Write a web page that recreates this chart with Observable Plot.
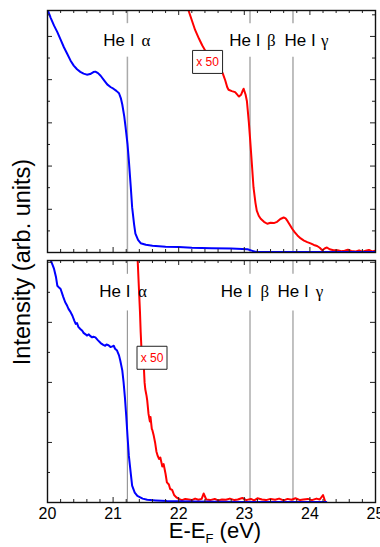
<!DOCTYPE html>
<html><head><meta charset="utf-8">
<script src="https://cdn.jsdelivr.net/npm/d3@7"></script>
<script src="https://cdn.jsdelivr.net/npm/@observablehq/plot@0.6"></script>
<style>
body{margin:0;background:#fff;}
#wrap{position:relative;width:380px;height:547px;overflow:hidden;font-family:"Liberation Sans",Arial,sans-serif;color:#000;}
#top,#bot{position:absolute;left:0;}
#top{top:0px}
#bot{top:255px}
#ylab{position:absolute;left:23px;top:262px;transform:translate(-50%,-50%) rotate(-90deg);font-size:23.5px;white-space:nowrap;line-height:1;}
#xlab{position:absolute;left:215px;top:521px;transform:translateX(-50%);font-size:22px;white-space:nowrap;line-height:0.9;}
#xlab .s{font-size:13px;position:relative;top:5px;}
</style>
</head><body>
<div id="wrap">
  <div id="top"></div>
  <div id="bot"></div>
  <div id="ylab">Intensity (arb. units)</div>
  <div id="xlab">E-E<span class="s">F</span> (eV)</div>
</div>
<script>
// ---------- data ----------
const heLineNames = ["α", "β", "γ"];
const heLineEnergies = [21.218, 23.087, 23.742];
const xTickLabels = [20, 21, 22, 23, 24, 25];

// top panel, blue (raw)
const topBlueE = [20.0,20.05,20.1,20.15,20.2,20.25,20.3,20.35,20.4,20.45,20.5,20.55,20.6,20.65,20.7,20.73,20.77,20.81,20.86,20.91,20.96,21.01,21.05,21.09,21.12,21.14,21.17,21.19,21.22,21.24,21.27,21.29,21.32,21.34,21.38,21.42,21.5,21.6,21.8,22.0,22.2,22.5,22.8,23.05,23.1,23.15,23.2,23.4,23.8,24.5,25.0];
const topBlueI = [11.25,10.85,10.5,10.2,9.85,9.5,9.2,8.89,8.65,8.48,8.36,8.28,8.23,8.26,8.35,8.37,8.3,8.18,7.98,7.78,7.66,7.57,7.48,7.37,7.12,6.85,6.3,5.8,5.0,4.26,3.0,2.1,1.3,0.87,0.58,0.43,0.36,0.31,0.27,0.25,0.22,0.2,0.18,0.15,0.1,0.05,0.04,0.02,0.02,0.02,0.02];

// top panel, red (x 50)
const topRedE = [22.1,22.15,22.2,22.25,22.31,22.36,22.45,22.55,22.63,22.67,22.71,22.74,22.76,22.81,22.86,22.9,22.92,22.95,22.97,22.99,23.02,23.04,23.07,23.09,23.12,23.14,23.17,23.19,23.22,23.25,23.3,23.35,23.4,23.45,23.5,23.55,23.6,23.63,23.66,23.7,23.73,23.77,23.81,23.86,23.91,23.96,24.01,24.06,24.11,24.15,24.19,24.23,24.26,24.3,24.36,24.42,24.48,24.53,24.58,24.63,24.7,24.75,24.8,24.85,24.9,24.95,25.0];
const topRedI = [11.9,11.2,10.75,10.3,9.89,9.58,9.1,8.7,8.45,8.3,7.96,7.65,7.53,7.47,7.42,7.28,7.22,7.3,7.45,7.58,7.3,7.0,6.0,5.19,3.9,3.02,2.3,1.94,1.7,1.56,1.42,1.33,1.38,1.36,1.42,1.55,1.62,1.58,1.45,1.25,1.1,0.93,0.79,0.65,0.55,0.48,0.42,0.35,0.3,0.22,0.1,0.2,0.23,0.15,0.1,0.1,0.06,0.08,0.13,0.07,0.05,0.1,0.04,0.08,0.12,0.05,0.08];

// bottom panel, blue (raw)
const botBlueE = [20.03,20.05,20.08,20.1,20.13,20.15,20.18,20.2,20.24,20.27,20.3,20.32,20.35,20.38,20.41,20.43,20.45,20.47,20.5,20.53,20.55,20.58,20.6,20.63,20.65,20.68,20.7,20.73,20.77,20.81,20.85,20.88,20.9,20.93,20.96,20.99,21.01,21.03,21.06,21.09,21.11,21.14,21.16,21.18,21.2,21.22,21.24,21.27,21.29,21.33,21.37,21.45,21.52,21.65,21.82,22.2,23.0,24.25];
const botBlueI = [8.3,8.06,7.9,7.78,7.5,7.22,7.15,7.11,6.85,6.67,6.55,6.45,6.35,6.22,6.05,5.95,5.98,5.85,5.78,5.72,5.65,5.6,5.56,5.6,5.55,5.5,5.52,5.5,5.4,5.31,5.25,5.22,5.26,5.24,5.18,5.2,5.22,5.12,5.06,4.9,4.72,4.4,4.0,3.5,2.89,2.2,1.56,0.95,0.56,0.33,0.22,0.13,0.09,0.07,0.05,0.03,0.02,0.02];

// bottom panel, red (x 50)
const botRedE = [21.37,21.39,21.41,21.42,21.43,21.45,21.47,21.48,21.49,21.51,21.52,21.54,21.56,21.57,21.59,21.6,21.62,21.64,21.66,21.68,21.7,21.72,21.74,21.75,21.77,21.8,21.82,21.85,21.87,21.9,21.93,21.96,22.0,22.05,22.1,22.15,22.2,22.25,22.3,22.35,22.38,22.42,22.48,22.55,22.6,22.66,22.72,22.78,22.85,22.9,22.97,23.03,23.1,23.15,23.2,23.27,23.33,23.4,23.47,23.53,23.6,23.66,23.72,23.78,23.85,23.9,23.97,24.03,24.1,24.15,24.2,24.23];
const botRedI = [8.3,7.3,6.33,5.7,5.22,4.8,4.45,4.0,3.78,3.55,3.4,2.95,2.7,2.85,2.45,2.4,2.22,2.0,1.7,1.55,1.45,1.5,1.3,1.2,1.28,0.95,0.67,0.6,0.45,0.42,0.25,0.18,0.12,0.08,0.12,0.1,0.08,0.13,0.09,0.12,0.3,0.1,0.08,0.12,0.07,0.1,0.09,0.13,0.08,0.1,0.15,0.08,0.12,0.07,0.14,0.1,0.08,0.12,0.09,0.13,0.07,0.12,0.09,0.14,0.08,0.1,0.12,0.08,0.13,0.1,0.25,0.05];

// ---------- helpers ----------
const zip = (E, I) => E.map((e, k) => ({e, i: I[k]}));
const W = 380, ML = 47, MR = 5;
const xMinor = d3.range(20, 25.001, 0.2).map(v => +v.toFixed(1)).filter(v => !xTickLabels.includes(v));

const boxSymbol = {draw(ctx) { ctx.moveTo(-15, -11.5); ctx.lineTo(15, -11.5); ctx.lineTo(15, 11.5); ctx.lineTo(-15, 11.5); ctx.closePath(); }};

function panel(o) {
  const innerH = o.height - o.mt - o.mb, innerW = W - ML - MR;
  const yMajor = [], yMinor = [];
  for (let v = 1; v < o.yMax; v++) (v % 2 ? yMinor : yMajor).push(v);
  const marks = [
    Plot.ruleX(heLineEnergies, {x: d => d, y1: 0, y2: o.gap[0], stroke: o.ruleColor, strokeWidth: o.ruleW}),
    Plot.ruleX(heLineEnergies, {x: d => d, y1: o.gap[1], y2: o.yMax, stroke: o.ruleColor, strokeWidth: o.ruleW}),
    Plot.line(o.red, {x: "e", y: "i", stroke: "#ff0000", strokeWidth: 2, clip: true, curve: "linear"}),
    Plot.line(o.blue, {x: "e", y: "i", stroke: "#0000ff", strokeWidth: 2, clip: true, curve: "linear"}),
    Plot.dot([o.box], {x: "e", y: "i", r: 3, symbol: boxSymbol, fill: "white", stroke: "#222", strokeWidth: 1}),
    Plot.text([o.box], {x: "e", y: "i", text: () => "x 50", fill: "#ff0000", fontSize: 12, fontFamily: "Liberation Sans, Arial, sans-serif"}),
    ...heLineEnergies.map((e, k) => Plot.text([e], {x: d => d, text: () => "He I", frameAnchor: "top", lineAnchor: "bottom", textAnchor: "end", dx: o.labDx[k][0], dy: o.labDy, fontSize: 17, fontFamily: "Liberation Sans, Arial, sans-serif", fill: "#000"})),
    ...heLineEnergies.map((e, k) => Plot.text([e], {x: d => d, text: () => heLineNames[k], frameAnchor: "top", lineAnchor: "bottom", textAnchor: "start", dx: o.labDx[k][1], dy: o.labDy, fontSize: 17, fontFamily: "Liberation Serif, serif", fill: "#000"})),
    // inward ticks on all sides
    Plot.tickX(xTickLabels, {x: d => d, insetTop: innerH - 5, stroke: "#222"}),
    Plot.tickX(xMinor, {x: d => d, insetTop: innerH - 3, stroke: "#222"}),
    Plot.tickX(xTickLabels, {x: d => d, insetBottom: innerH - 5, stroke: "#222"}),
    Plot.tickX(xMinor, {x: d => d, insetBottom: innerH - 3, stroke: "#222"}),
    Plot.tickY(yMajor, {y: d => d, insetRight: innerW - 5, stroke: "#222"}),
    Plot.tickY(yMinor, {y: d => d, insetRight: innerW - 3, stroke: "#222"}),
    Plot.tickY(yMajor, {y: d => d, insetLeft: innerW - 5, stroke: "#222"}),
    Plot.tickY(yMinor, {y: d => d, insetLeft: innerW - 3, stroke: "#222"}),
    Plot.frame({stroke: "#111", strokeWidth: 1.4})
  ];
  return Plot.plot({
    width: W, height: o.height,
    marginLeft: ML, marginRight: MR, marginTop: o.mt, marginBottom: o.mb,
    style: {fontSize: "16px", fontFamily: "Liberation Sans, Arial, sans-serif", color: "#000", background: "transparent", overflow: "visible"},
    x: {domain: [20, 25], ticks: xTickLabels, tickSize: 0, tickPadding: 5, tickFormat: d => String(d), label: null, axis: o.showX ? "bottom" : null},
    y: {domain: [0, o.yMax], axis: null},
    marks
  });
}

document.getElementById("top").append(panel({
  height: 255, mt: 10, mb: 3, yMax: 11.2, showX: false,
  gap: [9.04, 10.59], ruleColor: "#aaa", ruleW: 1.5,
  blue: zip(topBlueE, topBlueI), red: zip(topRedE, topRedI),
  box: {e: 22.44, i: 8.82},
  labDx: [[7, 14], [10.5, 17], [22.7, 28]], labDy: 35.7
}));
document.getElementById("bot").append(panel({
  height: 272, mt: 5, mb: 25, yMax: 8.06, showX: true,
  gap: [6.38, 7.6], ruleColor: "#999", ruleW: 1.2,
  blue: zip(botBlueE, botBlueI), red: zip(botRedE, botRedI),
  box: {e: 21.593, i: 4.82},
  labDx: [[3, 10.7], [2, 10.5], [15.7, 22.7]], labDy: 36.7
}));
</script>
</body></html>
